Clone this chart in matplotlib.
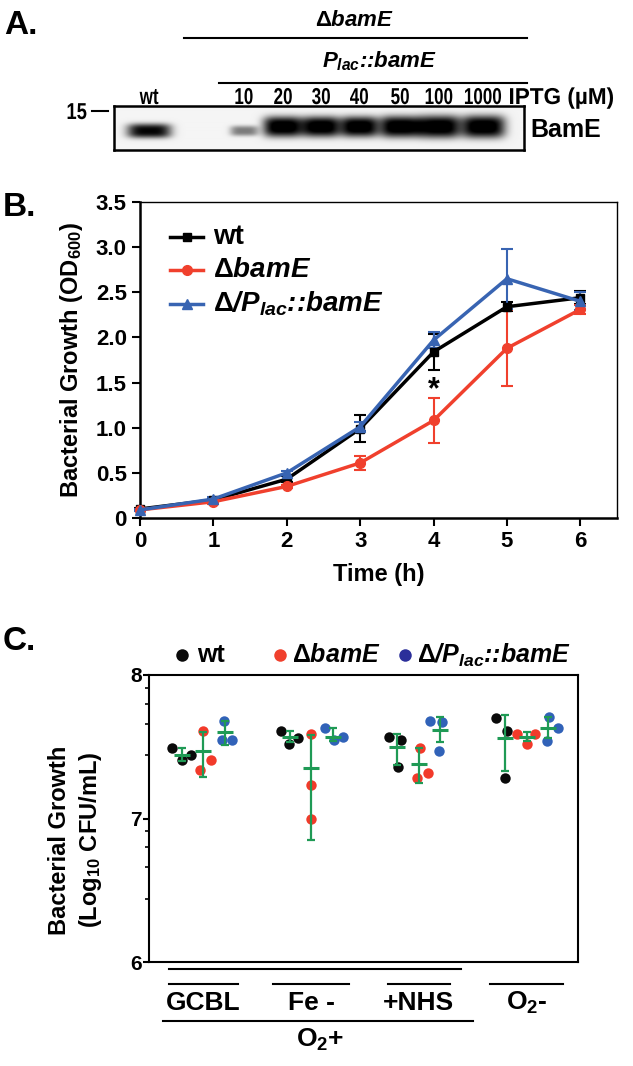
import numpy as np
import matplotlib
matplotlib.use('Agg')
from matplotlib import pyplot as plt
from matplotlib.lines import Line2D
from matplotlib import transforms
from matplotlib.textpath import TextPath
from matplotlib.patches import PathPatch
from matplotlib.font_manager import FontProperties

plt.rcParams['font.family'] = ['Liberation Sans', 'DejaVu Sans']
plt.rcParams['font.weight'] = 'bold'
plt.rcParams['axes.labelweight'] = 'bold'
plt.rcParams['mathtext.fontset'] = 'custom'
plt.rcParams['mathtext.rm'] = 'Liberation Sans:bold'
plt.rcParams['mathtext.bf'] = 'Liberation Sans:bold'
plt.rcParams['mathtext.it'] = 'Liberation Sans:italic:bold'
plt.rcParams['mathtext.sf'] = 'Liberation Sans:bold'

# ---- panel A: western blot ----
lane_labels = ['wt', '10', '20', '30', '40', '50', '100', '1000']
band_intensity = [0.9, 0.45, 1.0, 1.0, 1.0, 1.0, 1.0, 1.0]

# ---- panel B: growth curves ----
time_h = [0, 1, 2, 3, 4, 5, 6]
wt_od = [0.10, 0.20, 0.43, 0.99, 1.84, 2.34, 2.44]
wt_sd = [0.01, 0.02, 0.03, 0.15, 0.20, 0.05, 0.07]
dbamE_od = [0.09, 0.18, 0.35, 0.61, 1.08, 1.88, 2.31]
dbamE_sd = [0.01, 0.02, 0.02, 0.08, 0.25, 0.42, 0.05]
comp_od = [0.09, 0.21, 0.50, 1.01, 1.97, 2.65, 2.40]
comp_sd = [0.01, 0.02, 0.02, 0.05, 0.09, 0.33, 0.10]

# ---- panel C: CFU under conditions ----
conditions = ['GCBL', 'Fe -', '+NHS', 'O$_2$-']
wt_cfu = [[7.49, 7.41, 7.44], [7.61, 7.52, 7.56], [7.57, 7.55, 7.36], [7.70, 7.61, 7.28]]
dbamE_cfu = [[7.61, 7.34, 7.41], [7.59, 7.23, 7.00], [7.49, 7.28, 7.32], [7.59, 7.52, 7.59]]
comp_cfu = [[7.68, 7.55, 7.55], [7.63, 7.55, 7.57], [7.68, 7.67, 7.47], [7.71, 7.54, 7.63]]
wt_mean = [7.44, 7.57, 7.50, 7.56]
wt_lo = [7.40, 7.53, 7.37, 7.33]
wt_hi = [7.49, 7.61, 7.59, 7.72]
dbamE_mean = [7.47, 7.35, 7.38, 7.57]
dbamE_lo = [7.29, 6.85, 7.25, 7.54]
dbamE_hi = [7.60, 7.58, 7.49, 7.60]
comp_mean = [7.60, 7.57, 7.62, 7.63]
comp_lo = [7.51, 7.54, 7.53, 7.56]
comp_hi = [7.68, 7.63, 7.71, 7.71]

W, H = 633, 1066
fig = plt.figure(figsize=(W / 100, H / 100), dpi=100)


def fx(px):
    return px / W


def fy(py):
    return 1 - py / H


def hline(x0, x1, y, lw=1.5):
    fig.add_artist(Line2D([fx(x0), fx(x1)], [fy(y), fy(y)], color='black', lw=lw))


def bold_ticks(ax):
    for lab in ax.get_xticklabels() + ax.get_yticklabels():
        lab.set_fontweight('bold')


BOLD = FontProperties(family='Liberation Sans', weight='bold')


def narrow_text(x, y_base, s, size_px, sx=0.8, ha='center'):
    # condensed bold text (no narrow font installed), placed in pixels
    tp = TextPath((0, 0), s, size=size_px, prop=BOLD)
    bb = tp.get_extents()
    if ha == 'center':
        x0 = x - (bb.x0 + bb.width / 2) * sx
    else:
        x0 = x - bb.x0 * sx
    tr = transforms.Affine2D().scale(sx, 1).translate(x0, H - y_base)
    fig.add_artist(PathPatch(tr.transform_path(tp), facecolor='black', lw=0,
                             transform=transforms.IdentityTransform()))


BLACK, RED, BLUE = '#000000', '#f0402d', '#3864b2'

# ================= Panel A =================
fig.text(fx(4), fy(25), 'A.', fontsize=24, va='center', ha='left')
fig.text(fx(355), fy(20), r'$\Delta\mathit{bamE}$', fontsize=16, ha='center', va='center')
hline(184, 527, 38)
fig.text(fx(380), fy(61), r'$\mathit{P_{lac}}$::$\mathit{bamE}$', fontsize=16,
         style='italic', ha='center', va='center')
hline(219, 527, 83)

lane_x = [149, 244, 283, 321, 359, 400, 439, 483]
band_y = [131, 131, 127, 127, 127, 127, 127, 127]
band_hw = [22, 14, 20, 19, 19, 21, 21, 22]
band_hh = [7, 5, 10, 10, 10, 10.5, 11, 11]
for lx, lab in zip(lane_x, lane_labels):
    narrow_text(lx, 104, lab, 23, sx=0.74)
narrow_text(510, 104, u'IPTG (\u00b5M)', 23, sx=0.98, ha='left')

bx0, bx1, by0, by1 = 114, 524, 106, 150
ax_a = fig.add_axes([fx(bx0), fy(by1), (bx1 - bx0) / W, (by1 - by0) / H])
xs = np.arange(bx0, bx1, 0.5)
ys = np.arange(by0, by1, 0.5)
X, Y = np.meshgrid(xs, ys)
img = np.full(X.shape, 0.04)
for cx, cy, amp, wx, wy in zip(lane_x, band_y, band_intensity, band_hw, band_hh):
    img += amp * np.exp(-np.abs((X - cx) / wx) ** 4) * np.exp(-np.abs((Y - cy) / wy) ** 3)
img = np.clip(img, 0, 1)
ax_a.imshow(img, cmap='gray_r', vmin=0, vmax=0.95, extent=[bx0, bx1, by1, by0],
            aspect='auto', interpolation='bilinear')
ax_a.set_xticks([])
ax_a.set_yticks([])
for s in ax_a.spines.values():
    s.set_linewidth(1.8)
narrow_text(77, 119, '15', 23, sx=0.8)
hline(92, 108, 111, lw=1.5)
fig.text(fx(530), fy(130), 'BamE', fontsize=18, ha='left', va='center')

# ================= Panel B =================
fig.text(fx(3), fy(207), 'B.', fontsize=24, va='center', ha='left')
ax_b = fig.add_axes([fx(140), fy(518), 477 / W, 316 / H])
ax_b.errorbar(time_h, wt_od, yerr=wt_sd, color=BLACK, lw=2.5, marker='s', ms=6,
              capsize=4, elinewidth=1.5, capthick=1.5, clip_on=False, zorder=3)
ax_b.errorbar(time_h, dbamE_od, yerr=dbamE_sd, color=RED, lw=2.5, marker='o', ms=7,
              capsize=4, elinewidth=1.5, capthick=1.5, clip_on=False, zorder=3)
ax_b.errorbar(time_h, comp_od, yerr=comp_sd, color=BLUE, lw=2.5, marker='^', ms=7,
              capsize=4, elinewidth=1.5, capthick=1.5, clip_on=False, zorder=3)
ax_b.text(4, 1.42, '*', fontsize=22, ha='center', va='center')
ax_b.set_xlim(0, 6.5)
ax_b.set_ylim(0, 3.5)
ax_b.set_xticks(range(0, 7))
ax_b.set_yticks(np.arange(0, 3.51, 0.5))
ax_b.set_yticklabels(['0', '0.5', '1.0', '1.5', '2.0', '2.5', '3.0', '3.5'])
ax_b.tick_params(direction='out', length=6, width=1.5, labelsize=16)
bold_ticks(ax_b)
for s in ['left', 'bottom']:
    ax_b.spines[s].set_linewidth(1.8)
for s in ['top', 'right']:
    ax_b.spines[s].set_linewidth(1.0)
ax_b.set_xlabel('Time (h)', fontsize=17, labelpad=8)
ax_b.set_ylabel('Bacterial Growth (OD$_{600}$)', fontsize=17, labelpad=8)

leg_rows = [(237, BLACK, 's', 6, 'wt'),
            (270, RED, 'o', 7, r'$\Delta\mathit{bamE}$'),
            (304, BLUE, '^', 7, r'$\Delta$/$\mathit{P_{lac}}$::$\mathit{bamE}$')]
for yy, col, mk, ms, lab in leg_rows:
    fig.add_artist(Line2D([fx(170), fx(203)], [fy(yy), fy(yy)], color=col, lw=2.5))
    fig.add_artist(Line2D([fx(187)], [fy(yy)], color=col, marker=mk, ms=ms, lw=0))
    fig.text(fx(213), fy(yy), lab, fontsize=20, ha='left', va='center',
             style='italic' if lab != 'wt' else 'normal')

# ================= Panel C =================
fig.text(fx(3), fy(642), 'C.', fontsize=24, va='center', ha='left')
ax_c = fig.add_axes([fx(149), fy(962), 429 / W, 287 / H])
GREEN = '#1f9a55'
DOT_COLORS = ['#0a0a0a', '#f23a2a', '#3162b8']
jitter_px = [
    [[-10, 0, 9], [-9, -1, 8], [-8, 4, 1], [-9, 2, 0]],
    [[0, -3, 8], [0, 0, 0], [1, -2, 9], [-10, 0, 8]],
    [[-1, -3, 7], [-8, 1, 10], [-10, 2, -1], [1, -1, 10]],
]
unit_px = 107.8
strain_off = [-0.2, 0.0, 0.2]
series = [(wt_cfu, wt_mean, wt_lo, wt_hi),
          (dbamE_cfu, dbamE_mean, dbamE_lo, dbamE_hi),
          (comp_cfu, comp_mean, comp_lo, comp_hi)]
for si, (vals, means, los, his) in enumerate(series):
    for gi in range(len(conditions)):
        xc = gi + strain_off[si]
        xd = [xc + j / unit_px for j in jitter_px[si][gi]]
        ax_c.plot(xd, vals[gi], 'o', color=DOT_COLORS[si], ms=7.5, mew=0, zorder=2)
        ax_c.errorbar([xc], [means[gi]], yerr=[[means[gi] - los[gi]], [his[gi] - means[gi]]],
                      fmt='none', ecolor=GREEN, elinewidth=1.6, capsize=3, capthick=1.6, zorder=3)
        ax_c.plot([xc], [means[gi]], marker='_', ms=11, mew=2.2, color=GREEN, zorder=4)

ax_c.set_xlim(-0.504, 3.476)
ax_c.set_ylim(6, 8)
ax_c.set_xticks([])
ax_c.set_yticks([6, 7, 8])
ax_c.set_yticks([6.44, 6.66, 6.80, 6.91, 7.44, 7.66, 7.80, 7.91], minor=True)
ax_c.tick_params(axis='y', which='major', direction='out', length=4, width=1.5, labelsize=15, pad=1)
ax_c.tick_params(axis='y', which='minor', direction='out', length=3, width=1.2)
bold_ticks(ax_c)
for s in ax_c.spines.values():
    s.set_linewidth(1.5)
fig.text(fx(76), fy(840), 'Bacterial Growth\n(Log$_{10}$ CFU/mL)', fontsize=17, rotation=90,
         ha='center', va='center', multialignment='center', linespacing=1.3)

# legend of panel C
leg_c = [(182, 197, DOT_COLORS[0], 'wt', 'normal'),
         (280, 292, RED, r'$\Delta\mathit{bamE}$', 'normal'),
         (405, 417, '#2b2f9a', r'$\Delta$/$\mathit{P_{lac}}$::$\mathit{bamE}$', 'italic')]
for dx, tx, col, lab, st in leg_c:
    fig.add_artist(Line2D([fx(dx)], [fy(655)], marker='o', ms=9, mew=0, color=col, lw=0))
    fig.text(fx(tx), fy(655), lab, fontsize=18, ha='left', va='center', style=st)

# condition labels under panel C
trans = transforms.blended_transform_factory(ax_c.transData, fig.transFigure)
half_w = [0.32, 0.35, 0.29, 0.34]
for gi, name in enumerate(conditions):
    ax_c.add_line(Line2D([gi - half_w[gi], gi + half_w[gi]], [fy(984), fy(984)],
                         transform=trans, color='black', lw=1.5, clip_on=False))
    ax_c.text(gi, fy(1003), name, transform=trans, fontsize=19, ha='center', va='center')
ax_c.add_line(Line2D([-0.318, 2.39], [fy(969), fy(969)], transform=trans, color='black',
                     lw=1.5, clip_on=False))
ax_c.add_line(Line2D([-0.374, 2.50], [fy(1021), fy(1021)], transform=trans, color='black',
                     lw=1.5, clip_on=False))
ax_c.text(1.08, fy(1040), 'O$_2$+', transform=trans, fontsize=19, ha='center', va='center')

fig.savefig('out.png', dpi=100)
